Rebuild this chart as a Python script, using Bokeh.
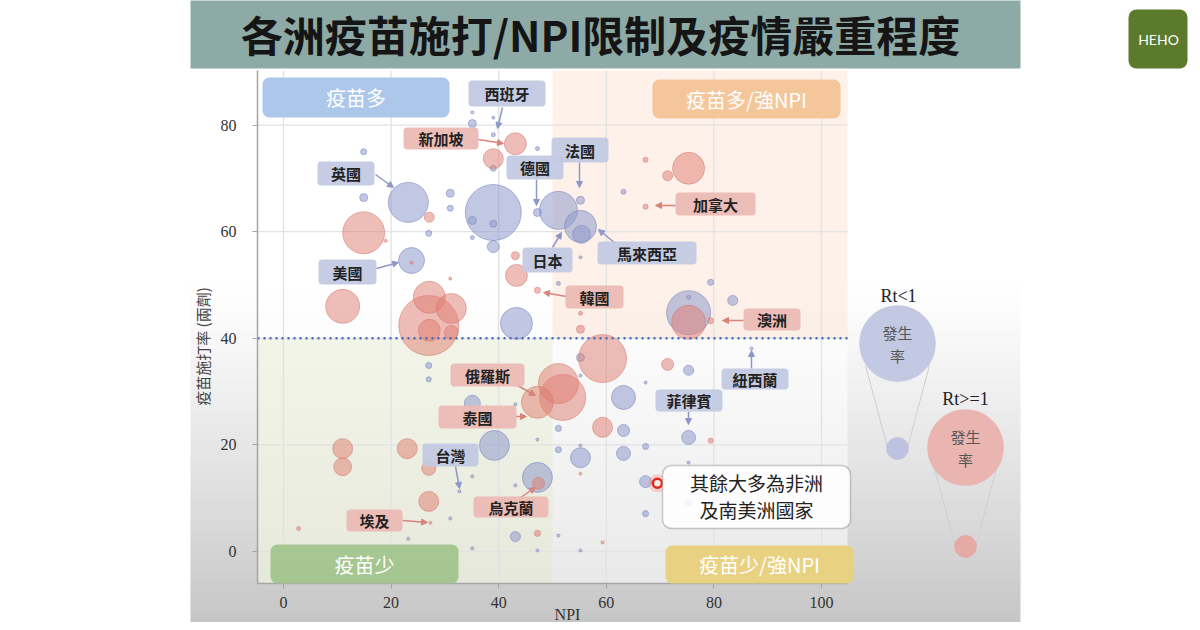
import numpy as np
from bokeh.plotting import figure
from bokeh.models import (ColumnDataSource, BoxAnnotation, Label, Arrow, NormalHead,
                          PolyAnnotation, FixedTicker, Range1d)
from bokeh.embed import file_html
from bokeh.resources import INLINE

# ---------------- data ----------------
# Rt < 1 countries (blue): NPI index, vaccination rate (%), incidence (relative)
npi_lo = [14.9, 14.9, 23.2, 31.0, 31.0, 27.0, 39.0, 35.1, 39.0, 39.0, 35.1, 39.0, 35.1, 39.0,
          39.0, 35.1, 23.8, 47.2, 51.1, 55.2, 55.2, 55.4, 47.2, 55.2, 51.1, 43.3, 63.2, 79.4,
          83.5, 75.3, 75.3, 27.0, 27.0, 35.1, 39.2, 55.2, 55.2, 75.3, 67.3, 63.2, 63.2, 51.1,
          75.3, 55.2, 63.2, 51.1, 67.3, 47.2, 67.3, 75.3, 67.3, 43.1, 43.1, 35.1, 43.1, 32.7,
          87.0, 31.0, 35.1, 23.2, 51.1, 47.2, 55.2, 75.3, 47.2, 55.2]
vax_lo = [75.0, 66.4, 65.5, 67.2, 64.4, 59.7, 63.6, 62.1, 61.5, 57.2, 58.9, 71.9, 82.4, 81.4,
          78.2, 80.3, 54.6, 75.6, 64.0, 65.9, 61.0, 59.5, 63.6, 55.2, 50.3, 42.8, 67.5, 50.5,
          47.1, 47.7, 44.8, 34.9, 32.3, 27.8, 19.9, 36.4, 33.0, 34.0, 31.7, 28.9, 22.7, 23.1,
          21.4, 17.6, 18.4, 19.1, 19.7, 13.9, 13.1, 9.2, 7.1, 2.8, 27.6, 14.1, 12.4, 11.3,
          38.1, 6.2, 0.6, 2.4, 3.0, 0.2, 0.2, 16.7, 21.0, 19.9]
inc_lo = [2.3, 4, 100, 4, 2.3, 2.3, 196, 4, 3.1, 9, 1, 2.3, 0.6, 0.6,
          1, 4, 42, 1, 90, 4, 64, 20, 4, 0.6, 1, 64, 1.6, 2.3,
          6.3, 1, 121, 2.3, 1.6, 16, 56, 4, 0.6, 6.3, 0.6, 36, 9, 2.3,
          12.3, 25, 12.3, 2.3, 2.3, 56, 9, 2.3, 2.3, 6.3, 0.6, 0.6, 0.6, 0.6,
          0.6, 0.6, 0.6, 0.6, 0.6, 0.6, 0.6, 0.6, 0.6, 0.6]

# Rt >= 1 countries (pink)
npi_hi = [27.1, 14.9, 19.0, 39.0, 43.1, 31.0, 43.1, 43.3, 47.2, 55.2, 55.2, 67.3, 71.4, 75.3,
          67.3, 75.3, 79.4, 11.0, 27.0, 27.1, 31.2, 27.1, 31.2, 23.8, 59.3, 71.4, 51.1, 51.9,
          47.2, 59.3, 79.4, 47.4, 47.2, 11.0, 11.0, 23.0, 27.0, 27.0, 2.8, 27.3, 55.2, 59.3]
vax_hi = [62.7, 59.8, 58.3, 73.7, 76.5, 51.2, 55.5, 51.8, 49.0, 41.7, 44.7, 73.5, 70.5, 71.9,
          64.7, 43.0, 43.3, 46.0, 42.4, 47.7, 45.6, 41.5, 41.1, 54.2, 36.2, 35.1, 31.5, 28.9,
          28.0, 23.3, 20.8, 12.8, 3.4, 19.3, 15.9, 19.3, 15.6, 9.4, 4.3, 5.4, 14.6, 1.7]
inc_hi = [6.3, 110, 0.6, 25, 30, 0.6, 4, 30, 2.3, 4, 1, 1.6, 6.3, 64,
          1.6, 72, 2.3, 72, 225, 64, 56, 30, 12.3, 0.6, 144, 9, 100, 132,
          64, 25, 1.6, 9, 2.3, 25, 20, 25, 12.3, 25, 1, 0.6, 0.6, 0.6]

# highlighted example point ("其餘大多為非洲及南美洲國家")
other_npi = [69.5]
other_vax = [12.8]

x_ticks = [0, 20, 40, 60, 80, 100]
y_ticks = [0, 20, 40, 60, 80]
vax_threshold = 40
npi_split = 50

# ---------------- layout helpers (canvas pixel -> data coords) ----------------
def dx(px):
    return (px - 283) / 5.38

def dy(py):
    return (551 - py) / 5.33

W, H = 1192, 622
XMIN, XMAX = dx(257), dx(847)   # chart area
YMIN, YMAX = dy(583), dy(70)

BLUE = "#8f9bcc"
PINK = "#e07b70"

p = figure(width=W, height=H, output_backend="svg", toolbar_location=None,
           x_range=Range1d(dx(0), dx(W)), y_range=Range1d(dy(H), dy(0)), min_border=0)
p.border_fill_color = "white"
p.background_fill_color = "white"
p.outline_line_color = None

# ---- page background: title bar + gradient panel ----
p.add_layout(BoxAnnotation(left=dx(190), right=dx(1020), top=dy(-5), bottom=dy(68),
                           fill_color="#8eaaa6", fill_alpha=1, line_color=None, level="image"))
stops_y = [280, 330, 430, 530, 630]
stops_g = [255, 249, 233, 216, 196]
for y0 in range(280, 630, 10):
    g = int(round(np.interp(y0 + 5, stops_y, stops_g)))
    col = "#%02x%02x%02x" % (g, g, g)
    p.add_layout(BoxAnnotation(left=dx(190), right=dx(1020), top=dy(y0), bottom=dy(y0 + 11),
                               fill_color=col, fill_alpha=1, line_color=None, level="image"))
# chart backdrop (lighter than the panel)
p.add_layout(BoxAnnotation(left=XMIN, right=XMAX, top=YMAX, bottom=YMIN, fill_color="white",
                           fill_alpha=0.55, line_color=None, level="image"))
# quadrant tints
p.add_layout(BoxAnnotation(left=XMIN, right=npi_split, top=vax_threshold, bottom=YMIN,
                           fill_color="#dfe8bf", fill_alpha=0.35, line_color=None, level="image"))
p.add_layout(BoxAnnotation(left=npi_split, right=XMAX, top=YMAX, bottom=vax_threshold,
                           fill_color="#f8d3bd", fill_alpha=0.32, line_color=None, level="image"))

# ---- grid (limited to the chart area) ----
p.grid.visible = False
p.segment(x0=x_ticks, x1=x_ticks, y0=[YMIN] * len(x_ticks), y1=[YMAX] * len(x_ticks),
          line_color="#e2e2e2", line_width=1.3, level="underlay")
p.segment(x0=[XMIN] * len(y_ticks), x1=[XMAX] * len(y_ticks), y0=y_ticks, y1=y_ticks,
          line_color="#e2e2e2", line_width=1.3, level="underlay")

# ---- axes ----
p.xaxis.ticker = FixedTicker(ticks=x_ticks)
p.yaxis.ticker = FixedTicker(ticks=y_ticks)
p.xaxis.fixed_location = YMIN
p.yaxis.fixed_location = XMIN
p.xaxis.bounds = (XMIN, XMAX)
p.yaxis.bounds = (YMIN, YMAX)
for ax in (p.xaxis, p.yaxis):
    ax.axis_line_color = "#a5a5a5"
    ax.axis_line_width = 1.5
    ax.major_tick_line_color = "#a5a5a5"
    ax.major_tick_out = 5
    ax.major_tick_in = 0
    ax.minor_tick_line_color = None
    ax.major_label_text_font = "Liberation Serif"
    ax.major_label_text_font_size = "16px"
    ax.major_label_text_color = "#333333"
p.xaxis.major_label_standoff = 8
p.yaxis.major_label_standoff = 16

p.add_layout(Label(x=dx(567), y=dy(614), text="NPI", text_font="Liberation Serif",
                   text_font_size="16px", text_color="#333333", text_align="center",
                   text_baseline="middle"))
p.add_layout(Label(x=dx(202), y=dy(346), text="疫苗施打率 (兩劑)", text_font="Noto Sans CJK TC",
                   text_font_size="15px", text_color="#444444", text_align="center",
                   text_baseline="middle", angle=np.pi / 2))

# ---- bubbles ----
def make_source(xs, ys, incs):
    order = np.argsort(-np.asarray(incs, dtype=float), kind="stable")
    xs = np.asarray(xs, dtype=float)[order]
    ys = np.asarray(ys, dtype=float)[order]
    incs = np.asarray(incs, dtype=float)[order]
    return ColumnDataSource(dict(npi=xs, vax=ys, inc=incs, size=4 * np.sqrt(incs)))

p.scatter("npi", "vax", size="size", source=make_source(npi_lo, vax_lo, inc_lo),
          fill_color=BLUE, fill_alpha=0.55, line_color="#7f8bc2", line_alpha=0.6, line_width=1)
p.scatter("npi", "vax", size="size", source=make_source(npi_hi, vax_hi, inc_hi),
          fill_color=PINK, fill_alpha=0.5, line_color="#d37a70", line_alpha=0.55, line_width=1)

# ---- threshold line ----
p.segment(x0=[XMIN], x1=[XMAX], y0=[vax_threshold], y1=[vax_threshold],
          line_color="#4a68b4", line_width=2.6, line_dash="2 4")

# highlight ring
p.scatter(other_npi, other_vax, size=18, fill_color="#ff6a5a", fill_alpha=0.25, line_color=None)
p.scatter(other_npi, other_vax, size=9, fill_color="white", fill_alpha=0.6,
          line_color="#e3261c", line_width=2.5)

# ---- quadrant labels ----
regions = [
    ("疫苗多", "#a9c4ea", (262, 449, 77, 117)),
    ("疫苗多/強NPI", "#f5c397", (652, 840, 79, 118)),
    ("疫苗少", "#a2c48d", (270, 458, 544, 583)),
    ("疫苗少/強NPI", "#e9d07c", (665, 853, 545, 583)),
]
for txt, col, (l, r, t, b) in regions:
    p.add_layout(BoxAnnotation(left=dx(l), right=dx(r), top=dy(t), bottom=dy(b),
                               fill_color=col, fill_alpha=0.95, line_color=None,
                               border_radius=7))
    p.add_layout(Label(x=dx((l + r) / 2), y=dy((t + b) / 2), text=txt,
                       text_font="Noto Sans CJK TC", text_font_size="20px",
                       text_color="white", text_align="center", text_baseline="middle"))

# ---- country callouts ----
callouts = [
    ("西班牙", "b", (468, 545, 80, 106), (502, 107, 497, 128)),
    ("新加坡", "p", (403, 478, 127, 149), (478, 139, 503, 143)),
    ("英國", "b", (317, 374, 161, 185), (375, 174, 393, 187)),
    ("美國", "b", (318, 376, 259, 284), (376, 268, 398, 262)),
    ("德國", "b", (506, 563, 155, 179), (536, 179, 536, 205)),
    ("法國", "b", (551, 608, 137, 162), (579, 162, 579, 187)),
    ("日本", "b", (522, 572, 247, 272), (552, 247, 561, 232)),
    ("馬來西亞", "b", (597, 696, 241, 264), (615, 243, 598, 229)),
    ("加拿大", "p", (675, 755, 192, 215), (675, 205, 655, 205)),
    ("韓國", "p", (565, 623, 285, 308), (566, 296, 543, 292)),
    ("澳洲", "p", (743, 800, 308, 330), (743, 320, 722, 320)),
    ("紐西蘭", "b", (721, 788, 368, 389), (751, 368, 751, 350)),
    ("菲律賓", "b", (655, 722, 389, 411), (688, 411, 688, 424)),
    ("俄羅斯", "p", (450, 524, 363, 386), (517, 385, 535, 395)),
    ("泰國", "p", (438, 516, 405, 428), (515, 416, 526, 416)),
    ("台灣", "b", (422, 478, 443, 466), (455, 466, 459, 488)),
    ("烏克蘭", "p", (473, 548, 496, 517), (520, 497, 535, 487)),
    ("埃及", "p", (346, 402, 509, 531), (402, 520, 427, 522)),
]
for txt, c, (l, r, t, b), (ax0, ay0, ax1, ay1) in callouts:
    box_col = "#c3c9e1" if c == "b" else "#ecb9b4"
    arr_col = "#8d98c9" if c == "b" else "#d9837a"
    p.add_layout(Arrow(x_start=dx(ax0), y_start=dy(ay0), x_end=dx(ax1), y_end=dy(ay1),
                       line_color=arr_col, line_width=1.5,
                       end=NormalHead(size=6, fill_color=arr_col, line_color=arr_col)))
    p.add_layout(BoxAnnotation(left=dx(l), right=dx(r), top=dy(t), bottom=dy(b),
                               fill_color=box_col, fill_alpha=0.95, line_color=None,
                               border_radius=4))
    p.add_layout(Label(x=dx((l + r) / 2), y=dy((t + b) / 2), text=txt,
                       text_font="Noto Sans CJK TC", text_font_style="bold",
                       text_font_size="15px", text_color="#222222",
                       text_align="center", text_baseline="middle"))

# ---- note box ----
p.add_layout(BoxAnnotation(left=dx(662), right=dx(850), top=dy(465), bottom=dy(528),
                           fill_color="white", fill_alpha=0.85, line_color="#555555",
                           line_width=1.5, border_radius=9))
p.add_layout(Label(x=dx(756), y=dy(482), text="其餘大多為非洲", text_font="Noto Sans CJK TC",
                   text_font_size="19px", text_color="#222222", text_align="center",
                   text_baseline="middle"))
p.add_layout(Label(x=dx(756), y=dy(509), text="及南美洲國家", text_font="Noto Sans CJK TC",
                   text_font_size="19px", text_color="#222222", text_align="center",
                   text_baseline="middle"))

# ---- size legend (right side) ----
def circle_poly(cx, cy, r, fill, line):
    t = np.linspace(0, 2 * np.pi, 73)
    xs = [dx(cx + r * np.cos(a)) for a in t]
    ys = [dy(cy + r * np.sin(a)) for a in t]
    p.add_layout(PolyAnnotation(xs=xs, ys=ys, fill_color=fill, fill_alpha=1,
                                line_color=line, line_width=1))

def seg(x0, y0, x1, y1):
    p.add_layout(Arrow(x_start=dx(x0), y_start=dy(y0), x_end=dx(x1), y_end=dy(y1),
                       end=None, line_color="#cfcfcf", line_width=1))

seg(865, 365, 887, 447)
seg(929, 365, 907, 447)
seg(934, 468, 955, 546)
seg(996, 468, 975, 546)
circle_poly(897, 343, 38, "#c4c9e3", "#b6bcdc")
circle_poly(897, 448, 11, "#bcc2df", "#aab1d6")
circle_poly(965, 447, 38, "#eab5b0", "#e0a49e")
circle_poly(965, 546, 11, "#e6aaa4", "#d99891")
for txt, x, y in [("Rt<1", 898, 295), ("Rt>=1", 965, 398)]:
    p.add_layout(Label(x=dx(x), y=dy(y), text=txt, text_font="Liberation Serif",
                       text_font_size="18px", text_color="#222222", text_align="center",
                       text_baseline="middle"))
for cx, cy in [(897, 343), (965, 447)]:
    p.add_layout(Label(x=dx(cx), y=dy(cy - 11), text="發生", text_font="Noto Sans CJK TC",
                       text_font_size="15px", text_color="#555555", text_align="center",
                       text_baseline="middle"))
    p.add_layout(Label(x=dx(cx), y=dy(cy + 12), text="率", text_font="Noto Sans CJK TC",
                       text_font_size="15px", text_color="#555555", text_align="center",
                       text_baseline="middle"))

# ---- title ----
p.add_layout(Label(x=dx(600), y=dy(33), text="各洲疫苗施打/NPI限制及疫情嚴重程度",
                   text_font="Noto Sans CJK TC", text_font_style="bold",
                   text_font_size="42px", text_color="#151515", text_align="center",
                   text_baseline="middle"))

# ---- logo ----
p.add_layout(BoxAnnotation(left=dx(1128), right=dx(1187), top=dy(9), bottom=dy(68),
                           fill_color="#5b7a2c", fill_alpha=1, line_color=None, border_radius=8))
p.add_layout(Label(x=dx(1158), y=dy(39), text="HEHO", text_font="Lato",
                   text_font_size="14px", text_color="white", text_align="center",
                   text_baseline="middle"))

open("out.html", "w").write(file_html(p, INLINE))
